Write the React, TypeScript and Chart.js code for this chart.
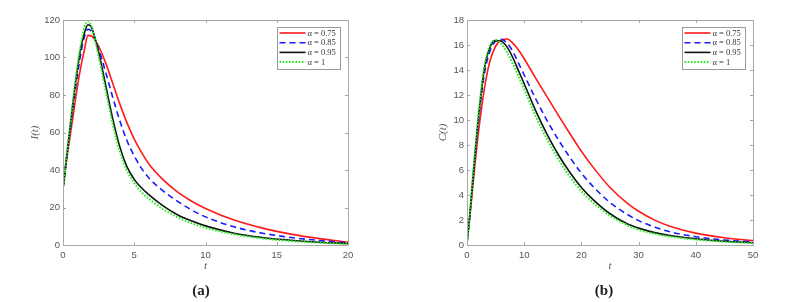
import React, { useEffect, useRef } from "react";
import { Chart, registerables } from "chart.js";

Chart.register(...registerables);

// ---------- Panel (a): I(t) ----------
const tI = [0, 0.25, 0.5, 0.75, 1, 1.25, 1.5, 1.75, 2, 2.5, 3, 3.5, 4, 4.5, 5, 5.5, 6, 7, 8, 9, 10, 12, 14, 16, 18, 20];
const iAlpha075 = [30, 45, 58, 71, 84, 95, 104, 111.8, 111.5, 106, 97, 86, 75, 65, 56.5, 49.5, 43.5, 35, 28.5, 23.5, 19.5, 13.3, 9, 5.8, 3.4, 1.5];
const iAlpha085 = [30, 46, 61, 76, 90, 102, 111, 115, 114, 104.5, 92, 78.5, 66, 55.5, 47.5, 41, 36, 29, 23.5, 18.8, 15, 9.7, 6.3, 4.0, 2.4, 1.2];
const iAlpha095 = [30, 47, 63, 79, 93, 105, 113, 117.5, 116, 103, 85, 67, 52, 41.5, 35, 30.5, 27, 21, 16.3, 12.9, 10.2, 6.3, 4.0, 2.5, 1.5, 0.8];
const iAlpha1 = [30, 47, 64, 80, 95, 107, 116, 119.3, 116.5, 100.5, 82, 64, 49.5, 39.5, 33, 28.3, 24.8, 19.2, 14.9, 11.7, 9.2, 5.7, 3.5, 2.1, 1.2, 0.6];

// ---------- Panel (b): C(t) ----------
const tC = [0, 0.5, 1, 1.5, 2, 3, 4, 5, 6, 7, 8, 9, 10, 12, 14, 16, 18, 20, 22, 25, 28, 30, 33, 36, 40, 45, 50];
const cAlpha075 = [0.3, 2.3, 4.6, 6.9, 9.0, 12.4, 14.7, 15.9, 16.4, 16.48, 16.15, 15.6, 14.9, 13.35, 11.85, 10.35, 8.9, 7.5, 6.25, 4.6, 3.35, 2.7, 1.95, 1.42, 0.95, 0.58, 0.35];
const cAlpha085 = [0.2, 2.4, 5.0, 7.5, 9.9, 13.6, 15.5, 16.3, 16.45, 16.15, 15.5, 14.55, 13.6, 11.7, 9.95, 8.4, 7.0, 5.75, 4.7, 3.4, 2.45, 1.95, 1.4, 1.0, 0.66, 0.4, 0.25];
const cAlpha095 = [0.1, 2.4, 5.2, 7.8, 10.2, 14.0, 15.8, 16.35, 16.3, 15.85, 15.0, 13.95, 12.9, 10.75, 8.85, 7.2, 5.8, 4.6, 3.65, 2.5, 1.7, 1.35, 0.97, 0.72, 0.5, 0.3, 0.18];
const cAlpha1 = [0.1, 2.5, 5.4, 8.0, 10.5, 14.2, 15.95, 16.4, 16.1, 15.4, 14.5, 13.5, 12.45, 10.3, 8.45, 6.85, 5.45, 4.3, 3.4, 2.35, 1.6, 1.22, 0.87, 0.64, 0.43, 0.26, 0.15];

const seriesLabels = ["α = 0.75", "α = 0.85", "α = 0.95", "α = 1"];

const lineStyles = [
  { color: "#ff1a1a", dash: [] as number[], width: 1.6, order: 4 },
  { color: "#1a1aff", dash: [6, 4], width: 1.6, order: 3 },
  { color: "#111111", dash: [] as number[], width: 1.6, order: 2 },
  { color: "#22ee22", dash: [1.6, 1.6], width: 2, order: 1 },
];

const AXIS_COLOR = "#a8a8a8";
const TICK_TEXT = "#555555";

const boxPlugin = {
  id: "matlabBox",
  afterDraw(chart: any) {
    const { ctx, chartArea } = chart;
    const xs = chart.scales.x;
    const ys = chart.scales.y;
    const { left, right, top, bottom } = chartArea;
    ctx.save();
    ctx.strokeStyle = AXIS_COLOR;
    ctx.lineWidth = 1;
    ctx.beginPath();
    ctx.rect(Math.round(left) + 0.5, Math.round(top) + 0.5, Math.round(right - left), Math.round(bottom - top));
    ctx.stroke();
    const tl = 3;
    ctx.beginPath();
    xs.ticks.forEach((tk: any) => {
      const px = Math.round(xs.getPixelForValue(tk.value)) + 0.5;
      ctx.moveTo(px, bottom);
      ctx.lineTo(px, bottom - tl);
      ctx.moveTo(px, top);
      ctx.lineTo(px, top + tl);
    });
    ys.ticks.forEach((tk: any) => {
      const py = Math.round(ys.getPixelForValue(tk.value)) + 0.5;
      ctx.moveTo(left, py);
      ctx.lineTo(left + tl, py);
      ctx.moveTo(right, py);
      ctx.lineTo(right - tl, py);
    });
    ctx.stroke();

    // legend box
    const w = 63;
    const h = 42;
    const lx = Math.round(right - 8 - w) + 0.5;
    const ly = Math.round(top + 7) + 0.5;
    ctx.fillStyle = "#ffffff";
    ctx.fillRect(lx, ly, w, h);
    ctx.strokeStyle = "#9a9a9a";
    ctx.setLineDash([]);
    ctx.strokeRect(lx, ly, w, h);
    const datasets = chart.data.datasets;
    datasets.forEach((ds: any, i: number) => {
      const ry = ly + 5.5 + i * 9.7;
      ctx.beginPath();
      ctx.strokeStyle = ds.borderColor;
      ctx.lineWidth = ds.borderWidth;
      ctx.setLineDash(ds.borderDash || []);
      ctx.moveTo(lx + 2, ry);
      ctx.lineTo(lx + 28, ry);
      ctx.stroke();
      ctx.setLineDash([]);
      ctx.fillStyle = "#333333";
      ctx.font = "8.5px 'Liberation Serif', 'DejaVu Serif', serif";
      ctx.textBaseline = "middle";
      ctx.textAlign = "left";
      ctx.fillText(ds.label, lx + 30, ry + 0.5);
    });
    ctx.restore();
  },
};

function buildConfig(
  t: number[],
  series: number[][],
  xMax: number,
  xStep: number,
  yMax: number,
  yStep: number,
  yTitle: string,
  padRight: number,
  yAxisWidth: number,
  yTitlePad: number
): any {
  const datasets = series.map((vals, i) => ({
    label: seriesLabels[i],
    data: t.map((tv, k) => ({ x: tv, y: vals[k] })),
    borderColor: lineStyles[i].color,
    backgroundColor: lineStyles[i].color,
    borderDash: lineStyles[i].dash,
    borderWidth: lineStyles[i].width,
    order: lineStyles[i].order,
    pointRadius: 0,
    fill: false,
    cubicInterpolationMode: "monotone",
  }));
  return {
    type: "line",
    data: { datasets },
    options: {
      animation: false,
      responsive: false,
      devicePixelRatio: 1,
      layout: { padding: { left: 0, right: padRight, top: 20, bottom: 0 } },
      plugins: {
        legend: { display: false },
        tooltip: { enabled: false },
      },
      scales: {
        x: {
          type: "linear",
          min: 0,
          max: xMax,
          grid: { display: false, drawTicks: false },
          border: { display: false },
          ticks: {
            stepSize: xStep,
            padding: 5,
            color: TICK_TEXT,
            font: { family: "'Liberation Sans', Arial, sans-serif", size: 9.5 },
            maxRotation: 0,
          },
          title: {
            display: true,
            text: "t",
            color: "#555555",
            font: { family: "'Liberation Serif', serif", size: 11, style: "italic" },
            padding: { top: 0, bottom: 29 },
          },
          afterFit: (scale: any) => {
            scale.height = 57;
          },
        },
        y: {
          type: "linear",
          min: 0,
          max: yMax,
          grid: { display: false, drawTicks: false },
          border: { display: false },
          ticks: {
            stepSize: yStep,
            padding: 3,
            color: TICK_TEXT,
            font: { family: "'Liberation Sans', Arial, sans-serif", size: 9.5 },
          },
          title: {
            display: true,
            text: yTitle,
            color: "#555555",
            font: { family: "'Liberation Serif', serif", size: 11, style: "italic" },
            padding: { top: yTitlePad, bottom: 0 },
          },
          afterFit: (scale: any) => {
            scale.width = yAxisWidth;
          },
        },
      },
    },
    plugins: [boxPlugin],
  };
}

export default function App() {
  const leftRef = useRef<HTMLCanvasElement>(null);
  const rightRef = useRef<HTMLCanvasElement>(null);

  useEffect(() => {
    const c1 = new Chart(
      leftRef.current as HTMLCanvasElement,
      buildConfig(tI, [iAlpha075, iAlpha085, iAlpha095, iAlpha1], 20, 5, 120, 20, "I(t)", 50, 63, 28.5)
    );
    const c2 = new Chart(
      rightRef.current as HTMLCanvasElement,
      buildConfig(tC, [cAlpha075, cAlpha085, cAlpha095, cAlpha1], 50, 10, 18, 2, "C(t)", 44, 69, 38.5)
    );
    return () => {
      c1.destroy();
      c2.destroy();
    };
  }, []);

  const capStyle: React.CSSProperties = {
    position: "absolute",
    top: 281,
    transform: "translateX(-50%)",
    fontFamily: "'Liberation Serif', 'Times New Roman', serif",
    fontWeight: "bold",
    fontSize: 15,
    lineHeight: "18px",
    color: "#222222",
    whiteSpace: "nowrap",
  };

  return (
    <div
      style={{
        position: "absolute",
        left: 0,
        top: 0,
        width: 797,
        height: 302,
        background: "#ffffff",
        overflow: "hidden",
      }}
    >
      <canvas
        ref={leftRef}
        width={398}
        height={302}
        style={{ position: "absolute", left: 0, top: 0, width: 398, height: 302 }}
      />
      <canvas
        ref={rightRef}
        width={399}
        height={302}
        style={{ position: "absolute", left: 398, top: 0, width: 399, height: 302 }}
      />
      <div style={{ ...capStyle, left: 201 }}>(a)</div>
      <div style={{ ...capStyle, left: 604 }}>(b)</div>
    </div>
  );
}
